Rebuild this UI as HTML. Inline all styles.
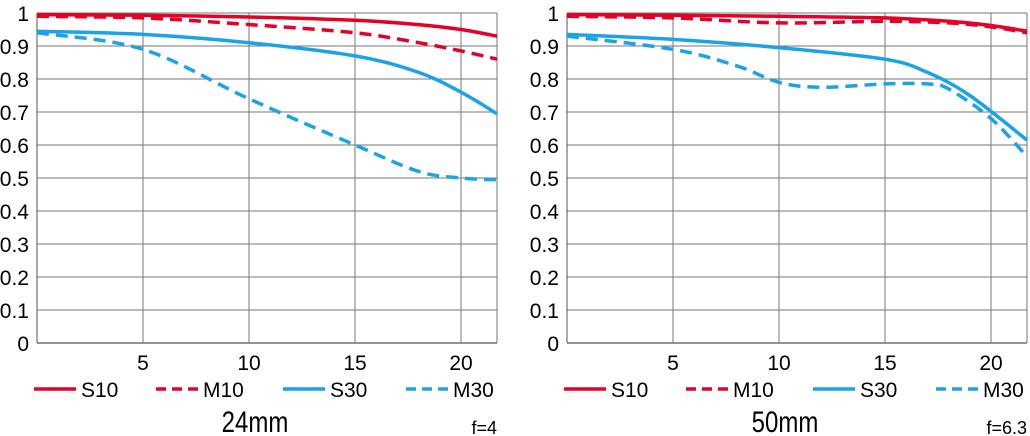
<!DOCTYPE html>
<html><head><meta charset="utf-8"><style>
html,body{margin:0;padding:0;background:#fff;}
svg{display:block;font-family:"Liberation Sans",sans-serif;}
</style></head><body>
<svg id="s" width="1030" height="436" viewBox="0 0 1030 436" xmlns="http://www.w3.org/2000/svg"></svg>
<script>
const s=document.getElementById('s');
let h='';
function X(o,v){return o+v*21.2;}
function Y(v){return 343-v*330;}
function curve(o,pts,col,dash){
  const P=pts.map(p=>[X(o,p[0]),Y(p[1])]);
  let d='M'+P[0][0].toFixed(1)+','+P[0][1].toFixed(1);
  for(let i=0;i<P.length-1;i++){
    const p0=P[i-1]||P[i],p1=P[i],p2=P[i+1],p3=P[i+2]||P[i+1];
    const c1=[p1[0]+(p2[0]-p0[0])/6,p1[1]+(p2[1]-p0[1])/6];
    const c2=[p2[0]-(p3[0]-p1[0])/6,p2[1]-(p3[1]-p1[1])/6];
    d+=`C${c1[0].toFixed(1)},${c1[1].toFixed(1)} ${c2[0].toFixed(1)},${c2[1].toFixed(1)} ${p2[0].toFixed(1)},${p2[1].toFixed(1)}`;
  }
  h+=`<path d="${d}" fill="none" stroke="${col}" stroke-width="3.5" ${dash?'stroke-dasharray="12,7"':''}/>`;
}
const R='#e60026',B='#1aa3e8';
function chart(o,data,title,f){
  for(let i=0;i<=10;i++){const y=Y(i/10);
    h+=`<line x1="${o}" x2="${o+460}" y1="${y}" y2="${y}" stroke="#777" stroke-width="1"/>`;
    h+=`<text x="${o-8}" y="${y+8}" font-size="21" text-anchor="end">${i==10?1:i==0?0:(i/10).toFixed(1)}</text>`;}
  h+=`<line x1="${o}" x2="${o}" y1="${Y(1)}" y2="343" stroke="#555" stroke-width="1"/>`;
  h+=`<line x1="${o}" x2="${o+460}" y1="343" y2="343" stroke="#555" stroke-width="1.2"/>`;
  for(let k=5;k<=20;k+=5){const x=X(o,k);
    h+=`<line x1="${x}" x2="${x}" y1="${Y(1)}" y2="343" stroke="#777" stroke-width="1"/>`;
    h+=`<text x="${x}" y="370" font-size="21" text-anchor="middle">${k}</text>`;}
  h+=`<line x1="${o+460}" x2="${o+460}" y1="${Y(1)}" y2="343" stroke="#777" stroke-width="1"/>`;
  curve(o,data[1],R,1);curve(o,data[0],R,0);curve(o,data[3],B,1);curve(o,data[2],B,0);
  const lg=[[R,0,'S10',-3],[R,1,'M10',119],[B,0,'S30',246],[B,1,'M30',369]];
  for(const l of lg){const x=o+l[3];
    h+=`<line x1="${x}" x2="${x+42}" y1="389" y2="389" stroke="${l[0]}" stroke-width="3.5" ${l[1]?'stroke-dasharray="10,6"':''}/>`;
    h+=`<text x="${x+47}" y="397" font-size="21">${l[2]}</text>`;}
  h+=`<text x="${o+218}" y="432" font-size="30" text-anchor="middle" transform="translate(${(o+218)*0.2},0) scale(0.8,1)">${title}</text>`;
  h+=`<text x="${o+460}" y="434" font-size="18" text-anchor="end">${f}</text>`;
}
chart(37,[
 [[0,.995],[5,.993],[10,.988],[15,.978],[18,.965],[20,.95],[21.7,.93]],
 [[0,.99],[5,.985],[10,.965],[15,.94],[18,.91],[20,.885],[21.7,.86]],
 [[0,.945],[5,.935],[10,.91],[15,.87],[18,.82],[20,.76],[21.7,.695]],
 [[0,.94],[5,.89],[10,.74],[15,.6],[18,.52],[20,.5],[21.7,.495]]
],'24mm','f=4');
chart(567,[
 [[0,.995],[5,.993],[10,.99],[15,.985],[18,.975],[20,.962],[21.7,.945]],
 [[0,.99],[5,.985],[10,.97],[15,.975],[18,.97],[20,.958],[21.7,.94]],
 [[0,.935],[5,.92],[10,.895],[15,.86],[17,.82],[19,.75],[21.7,.615]],
 [[0,.93],[5,.89],[8,.84],[10,.79],[12,.775],[15,.785],[17,.785],[18,.77],[20,.68],[21.7,.565]]
],'50mm','f=6.3');
s.innerHTML=h;
</script>
</body></html>
